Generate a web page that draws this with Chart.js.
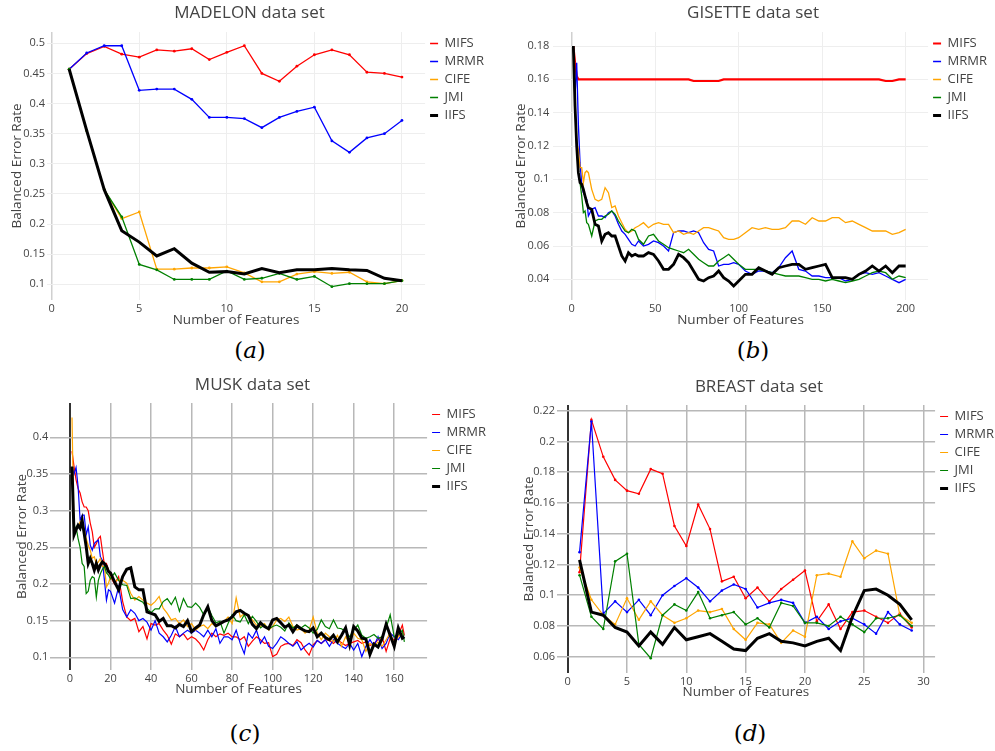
<!DOCTYPE html>
<html><head><meta charset="utf-8">
<script src="https://cdn.jsdelivr.net/npm/chart.js@4/dist/chart.umd.min.js"></script>
<style>
html,body{margin:0;padding:0;background:#fff;width:995px;height:751px;overflow:hidden;position:relative}
canvas.pc{position:absolute}
.cap{position:absolute;font-family:'DejaVu Serif',serif;font-size:23px;color:#000;transform:translate(-50%,-50%);white-space:nowrap}
</style></head><body>
<canvas id="cA" class="pc"></canvas>
<canvas id="cB" class="pc"></canvas>
<canvas id="cC" class="pc"></canvas>
<canvas id="cD" class="pc"></canvas>
<div class="cap" style="left:250px;top:350px">(<i>a</i>)</div>
<div class="cap" style="left:753px;top:350px">(<i>b</i>)</div>
<div class="cap" style="left:245px;top:733px">(<i>c</i>)</div>
<div class="cap" style="left:750px;top:733px">(<i>d</i>)</div>
<script>
// ---------- series names ----------
const names = ['MIFS','MRMR','CIFE','JMI','IIFS'];

// ---------- MADELON ----------
const madX = [1,2,3,4,5,6,7,8,9,10,11,12,13,14,15,16,17,18,19,20];
const madMIFS = [0.457,0.483,0.495,0.482,0.477,0.489,0.487,0.491,0.473,0.485,0.496,0.450,0.437,0.462,0.481,0.489,0.481,0.452,0.450,0.444];
const madMRMR = [0.457,0.484,0.496,0.496,0.422,0.424,0.424,0.407,0.377,0.377,0.375,0.360,0.377,0.387,0.394,0.338,0.319,0.343,0.350,0.372];
const madCIFE = [0.457,0.355,0.257,0.209,0.220,0.125,0.125,0.127,0.127,0.129,0.119,0.104,0.104,0.117,0.121,0.118,0.120,0.104,0.101,0.106];
const madJMI  = [0.457,0.355,0.257,0.212,0.133,0.124,0.108,0.108,0.108,0.122,0.108,0.110,0.118,0.108,0.113,0.096,0.101,0.101,0.101,0.106];
const madIIFS = [0.457,0.355,0.257,0.189,0.170,0.147,0.159,0.135,0.120,0.121,0.117,0.126,0.119,0.124,0.124,0.126,0.124,0.123,0.110,0.106];
const madXTicks = [0,5,10,15,20];
const madYTicks = [0.1,0.15,0.2,0.25,0.3,0.35,0.4,0.45,0.5];

// ---------- GISETTE ----------
const gisX = [1,2,3,4,5,6,7,8,9,10,12,14,16,18,20,22,24,26,28,30,32,34,36,38,40,43,46,49,52,55,58,61,64,67,70,73,76,79,82,85,88,91,94,97,100,104,108,112,116,120,124,128,132,136,140,144,148,152,156,160,164,168,172,176,180,184,188,192,196,200];
const gisMIFS = [0.180,0.170,0.162,0.160,0.160,0.160,0.160,0.160,0.160,0.160,
 0.160,0.160,0.160,0.160,0.160,0.160,0.160,0.160,0.160,0.160,0.160,0.160,0.160,0.160,0.160,
 0.160,0.160,0.160,0.160,0.160,0.160,0.160,0.160,0.160,0.160,0.159,0.159,0.159,0.159,0.159,0.159,0.160,0.160,0.160,0.160,
 0.160,0.160,0.160,0.160,0.160,0.160,0.160,0.160,0.160,0.160,0.160,0.160,0.160,0.160,0.160,0.160,0.160,0.160,0.160,0.160,0.160,0.159,0.159,0.160,0.160];
const gisMRMR = [0.180,0.150,0.170,0.133,0.110,0.097,0.092,0.090,0.088,0.078,
 0.082,0.083,0.078,0.078,0.077,0.080,0.081,0.078,0.073,0.069,0.067,0.064,0.061,0.060,0.063,
 0.060,0.061,0.063,0.062,0.060,0.057,0.068,0.069,0.069,0.068,0.069,0.068,0.062,0.058,0.057,0.048,0.049,0.049,0.050,0.049,
 0.045,0.043,0.045,0.045,0.044,0.047,0.053,0.057,0.046,0.045,0.042,0.042,0.041,0.041,0.041,0.039,0.040,0.043,0.044,0.043,0.044,0.042,0.040,0.038,0.040];
const gisCIFE = [0.180,0.144,0.122,0.118,0.107,0.107,0.098,0.104,0.105,0.104,
 0.094,0.088,0.087,0.088,0.095,0.092,0.083,0.084,0.078,0.074,0.070,0.068,0.069,0.071,0.072,
 0.074,0.071,0.073,0.074,0.073,0.073,0.068,0.069,0.067,0.068,0.067,0.069,0.071,0.071,0.070,0.069,0.065,0.064,0.064,0.065,
 0.068,0.071,0.070,0.071,0.070,0.070,0.071,0.075,0.075,0.073,0.077,0.075,0.075,0.077,0.077,0.074,0.075,0.073,0.071,0.069,0.069,0.069,0.067,0.068,0.070];
const gisJMI = [0.180,0.144,0.120,0.104,0.098,0.090,0.080,0.081,0.074,0.073,
 0.066,0.075,0.076,0.076,0.078,0.079,0.081,0.079,0.075,0.072,0.069,0.068,0.070,0.069,0.064,
 0.061,0.066,0.067,0.063,0.061,0.059,0.058,0.057,0.056,0.058,0.055,0.052,0.050,0.048,0.048,0.051,0.053,0.055,0.052,0.049,
 0.046,0.046,0.046,0.045,0.044,0.043,0.042,0.042,0.042,0.041,0.040,0.040,0.039,0.040,0.039,0.038,0.039,0.040,0.042,0.044,0.045,0.044,0.040,0.042,0.041];
const gisIIFS = [0.180,0.144,0.120,0.104,0.098,0.097,0.094,0.090,0.086,0.083,
 0.082,0.073,0.072,0.063,0.067,0.068,0.066,0.066,0.060,0.054,0.051,0.056,0.054,0.055,0.054,
 0.054,0.056,0.055,0.051,0.046,0.046,0.049,0.055,0.053,0.050,0.045,0.040,0.039,0.041,0.042,0.045,0.041,0.039,0.036,0.039,
 0.043,0.043,0.047,0.045,0.043,0.047,0.048,0.049,0.049,0.046,0.047,0.048,0.049,0.041,0.041,0.041,0.040,0.043,0.045,0.048,0.045,0.048,0.044,0.048,0.048];
const gisXTicks = [0,50,100,150,200];
const gisYTicks = [0.04,0.06,0.08,0.1,0.12,0.14,0.16,0.18];

// ---------- MUSK ----------
const muskX = [1,2,3,4,5,6,7,8,9,10,11,12,13,14,15,16,17,18,19,20,
 22,24,26,28,30,32,34,36,38,40,42,44,46,48,50,52,54,56,58,60,62,64,66,68,70,72,74,76,78,80,82,84,86,88,90,92,94,96,98,100,
 102,104,106,108,110,112,114,116,118,120,122,124,126,128,130,132,134,136,138,140,142,144,146,148,150,152,154,156,158,160,162,164,165];
const muskMIFS = [0.381,0.360,0.342,0.330,0.324,0.312,0.305,0.305,0.300,0.283,0.271,0.250,0.255,0.262,0.265,0.245,0.226,0.228,0.219,0.210,
 0.200,0.210,0.176,0.155,0.150,0.153,0.135,0.142,0.125,0.146,0.144,0.146,0.137,0.130,0.118,0.132,0.128,0.132,0.124,0.128,0.125,0.119,0.110,0.124,0.133,0.128,0.132,0.130,0.133,0.128,0.128,0.124,0.128,0.115,0.122,0.128,0.124,0.119,0.120,0.101,
 0.104,0.115,0.118,0.119,0.116,0.124,0.120,0.110,0.103,0.117,0.123,0.119,0.124,0.123,0.119,0.124,0.120,0.116,0.119,0.121,0.123,0.119,0.121,0.116,0.119,0.124,0.128,0.108,0.126,0.124,0.130,0.144,0.130];
const muskMRMR = [0.360,0.350,0.359,0.333,0.287,0.294,0.294,0.267,0.278,0.253,0.246,0.255,0.258,0.260,0.237,0.232,0.205,0.178,0.192,0.190,
 0.174,0.196,0.165,0.155,0.165,0.160,0.150,0.153,0.148,0.137,0.150,0.133,0.128,0.121,0.130,0.142,0.128,0.133,0.137,0.133,0.137,0.133,0.128,0.137,0.128,0.139,0.119,0.128,0.128,0.124,0.137,0.119,0.105,0.133,0.126,0.137,0.119,0.128,0.115,0.112,
 0.119,0.128,0.124,0.119,0.115,0.121,0.110,0.115,0.119,0.114,0.123,0.119,0.124,0.115,0.124,0.119,0.115,0.112,0.119,0.110,0.119,0.101,0.115,0.124,0.115,0.128,0.112,0.119,0.133,0.128,0.124,0.133,0.130];
const muskCIFE = [0.427,0.267,0.275,0.278,0.285,0.276,0.276,0.262,0.253,0.246,0.235,0.237,0.228,0.230,0.235,0.224,0.224,0.196,0.201,0.210,
 0.203,0.206,0.205,0.201,0.187,0.178,0.183,0.178,0.174,0.171,0.176,0.183,0.167,0.160,0.151,0.153,0.146,0.151,0.142,0.146,0.137,0.142,0.144,0.139,0.146,0.142,0.146,0.149,0.155,0.146,0.181,0.155,0.160,0.158,0.151,0.144,0.142,0.146,0.137,0.142,
 0.151,0.153,0.149,0.155,0.142,0.137,0.139,0.133,0.137,0.155,0.133,0.124,0.133,0.128,0.121,0.130,0.115,0.128,0.119,0.133,0.126,0.124,0.108,0.119,0.115,0.121,0.115,0.124,0.133,0.119,0.128,0.133,0.130];
const muskJMI = [0.360,0.270,0.278,0.262,0.250,0.228,0.224,0.187,0.190,0.205,0.210,0.208,0.182,0.205,0.214,0.220,0.224,0.215,0.212,0.207,
 0.215,0.205,0.199,0.198,0.180,0.181,0.178,0.175,0.167,0.161,0.166,0.166,0.176,0.180,0.172,0.182,0.163,0.180,0.169,0.168,0.174,0.168,0.158,0.169,0.157,0.147,0.149,0.133,0.146,0.158,0.150,0.148,0.158,0.146,0.156,0.149,0.140,0.144,0.139,0.142,
 0.144,0.141,0.136,0.147,0.140,0.144,0.140,0.144,0.140,0.133,0.138,0.151,0.142,0.139,0.151,0.140,0.139,0.135,0.128,0.137,0.144,0.130,0.126,0.128,0.131,0.126,0.128,0.140,0.158,0.128,0.131,0.137,0.121];
const muskIIFS = [0.360,0.267,0.274,0.280,0.276,0.287,0.269,0.251,0.228,0.235,0.228,0.219,0.228,0.219,0.226,0.230,0.228,0.224,0.217,0.215,
 0.203,0.192,0.210,0.220,0.222,0.196,0.192,0.192,0.162,0.160,0.158,0.149,0.153,0.143,0.143,0.140,0.145,0.142,0.150,0.135,0.140,0.144,0.158,0.169,0.150,0.143,0.146,0.149,0.151,0.155,0.162,0.164,0.160,0.157,0.145,0.139,0.147,0.142,0.139,0.151,
 0.153,0.147,0.141,0.144,0.135,0.143,0.139,0.136,0.135,0.140,0.128,0.133,0.127,0.124,0.130,0.121,0.130,0.140,0.117,0.142,0.136,0.126,0.125,0.104,0.118,0.114,0.125,0.145,0.130,0.115,0.140,0.126,0.128];
const muskXTicks = [0,20,40,60,80,100,120,140,160];
const muskYTicks = [0.1,0.15,0.2,0.25,0.3,0.35,0.4];

// ---------- BREAST ----------
const brX = [1,2,3,4,5,6,7,8,9,10,11,12,13,14,15,16,17,18,19,20,21,22,23,24,25,26,27,28,29];
const brMIFS = [0.115,0.214,0.190,0.175,0.168,0.166,0.182,0.179,0.145,0.132,0.159,0.143,0.109,0.112,0.098,0.105,0.096,0.104,0.110,0.116,0.083,0.094,0.078,0.089,0.090,0.086,0.082,0.088,0.079];
const brMRMR = [0.128,0.213,0.088,0.096,0.089,0.097,0.087,0.100,0.106,0.111,0.105,0.096,0.103,0.107,0.104,0.092,0.095,0.097,0.095,0.082,0.086,0.078,0.083,0.085,0.081,0.075,0.089,0.081,0.077];
const brCIFE = [0.118,0.097,0.087,0.081,0.098,0.084,0.096,0.087,0.082,0.085,0.090,0.089,0.091,0.078,0.071,0.082,0.081,0.069,0.077,0.073,0.113,0.114,0.112,0.135,0.124,0.129,0.127,0.087,0.082];
const brJMI  = [0.113,0.086,0.078,0.122,0.127,0.068,0.059,0.087,0.094,0.090,0.102,0.085,0.087,0.089,0.081,0.085,0.079,0.095,0.093,0.082,0.082,0.080,0.086,0.081,0.076,0.085,0.085,0.087,0.080];
const brIIFS = [0.123,0.089,0.087,0.079,0.076,0.067,0.076,0.068,0.079,0.071,0.073,0.075,0.070,0.065,0.064,0.072,0.075,0.070,0.069,0.067,0.070,0.072,0.064,0.086,0.103,0.104,0.100,0.094,0.084];
const brXTicks = [0,5,10,15,20,25,30];
const brYTicks = [0.06,0.08,0.1,0.12,0.14,0.16,0.18,0.2,0.22];

// ---------- styling / layout ----------
const colors = ['#ff0000','#0000ff','#ffa500','#008000','#000000'];
const FAM = "'Open Sans', sans-serif";
Chart.defaults.font.family = FAM;
Chart.defaults.color = '#444';
const LEG_BOX = 8, LEG_PAD = 5, LEG_FONT = 13;

function makePanel(id, p) {
  const cv = document.getElementById(id);
  const m = document.createElement('canvas').getContext('2d');
  m.font = LEG_FONT + 'px ' + FAM;
  const tw = Math.max(...names.map(n => m.measureText(n).width));
  const legendW = LEG_PAD + LEG_BOX + LEG_FONT / 2 + tw + 10;
  const L = Math.round(2 * p.titleCX - p.right - legendW);
  const W = Math.round(p.right - L + legendW);
  const H = p.bottom + 30 - p.top0;
  cv.width = W; cv.height = H;
  cv.style.left = L + 'px'; cv.style.top = p.top0 + 'px';
  cv.style.width = W + 'px'; cv.style.height = H + 'px';
  const pt = p.titleCY - p.top0 - 10.2;
  const pb = (p.top - p.top0) - pt - 20.4;
  const gridOpt = {
    drawTicks: false,
    color: c => (c.tick && c.tick.value === 0) ? p.zeroColor : p.gridColor,
    lineWidth: c => (c.tick && c.tick.value === 0) ? p.zeroW : p.gridW
  };
  const datasets = p.series.map((ys, i) => ({
    label: names[i],
    data: p.x.map((x, j) => ({x: x, y: ys[j]})),
    borderColor: colors[i], backgroundColor: colors[i],
    borderWidth: i === 4 ? p.boldW : (i === 0 && p.redW ? p.redW : p.thinW),
    pointRadius: i === 4 ? 0 : p.pointR, pointHoverRadius: 0, pointBorderWidth: 0,
    pointBackgroundColor: colors[i],
    tension: 0, fill: false, order: 5 - i
  }));
  new Chart(cv, {
    type: 'line',
    data: {datasets},
    options: {
      responsive: false, animation: false, devicePixelRatio: 1, events: [],
      layout: {padding: 0},
      plugins: {
        tooltip: {enabled: false},
        title: {display: true, text: p.title, color: '#444', font: {size: 17, weight: 'normal'}, padding: {top: pt, bottom: pb}},
        legend: {position: 'right', align: 'start', fullSize: false,
          labels: {boxWidth: LEG_BOX, boxHeight: 0, padding: LEG_PAD, color: '#444', font: {size: LEG_FONT},
            sort: (a, b) => a.datasetIndex - b.datasetIndex}}
      },
      scales: {
        x: {
          type: 'linear', min: p.xMin, max: p.xMax,
          afterBuildTicks: ax => { ax.ticks = p.xTicks.map(v => ({value: v})); },
          afterFit: s => { s.height = 30; },
          grid: gridOpt, border: {display: false},
          ticks: {autoSkip: false, maxRotation: 0, padding: p.xTickY - p.bottom - 6.6, color: '#444', font: {size: 11}, callback: v => String(v)},
          title: {display: true, text: 'Number of Features', color: '#444', font: {size: 13.5},
            padding: {top: 0, bottom: H - 8.1 - (p.xTitleY - p.top0)}}
        },
        y: {
          type: 'linear', min: p.yMin, max: p.yMax,
          afterBuildTicks: ax => { ax.ticks = p.yTicks.map(v => ({value: v})); },
          afterFit: s => { s.width = p.left - L; },
          grid: gridOpt, border: {display: false},
          ticks: {autoSkip: false, padding: p.left - p.yTickRight, color: '#444', font: {size: 11}, callback: v => String(+v.toFixed(3))},
          title: {display: true, text: 'Balanced Error Rate', color: '#444', font: {size: 13.5},
            padding: {top: p.yTitleX - L - 8.1, bottom: 0}}
        }
      }
    }
  });
}

makePanel('cA', {
  title: 'MADELON data set', x: madX, series: [madMIFS, madMRMR, madCIFE, madJMI, madIIFS],
  xTicks: madXTicks, yTicks: madYTicks,
  top0: 0, left: 47, right: 425.5, top: 32, bottom: 300,
  titleCX: 249.5, titleCY: 13.3, yTitleX: 17.3, xTitleY: 320, xTickY: 309, yTickRight: 45,
  xMin: -0.268, xMax: 21.32, yMin: 0.0739, yMax: 0.5188,
  gridColor: '#eeeeee', gridW: 1, zeroColor: '#d0d0d0', zeroW: 1.5,
  thinW: 1.3, boldW: 3, pointR: 1.4
});
makePanel('cB', {
  title: 'GISETTE data set', x: gisX, series: [gisMIFS, gisMRMR, gisCIFE, gisJMI, gisIIFS],
  xTicks: gisXTicks, yTicks: gisYTicks,
  top0: 0, left: 553, right: 928.5, top: 32, bottom: 300,
  titleCX: 753, titleCY: 13.5, yTitleX: 521, xTitleY: 320, xTickY: 309, yTickRight: 549.3,
  xMin: -11.19, xMax: 213.4, yMin: 0.0276, yMax: 0.1884,
  gridColor: '#eeeeee', gridW: 1, zeroColor: '#d0d0d0', zeroW: 1.5,
  thinW: 1.3, boldW: 2.8, redW: 2.2, pointR: 0
});
makePanel('cC', {
  title: 'MUSK data set', x: muskX, series: [muskMIFS, muskMRMR, muskCIFE, muskJMI, muskIIFS],
  xTicks: muskXTicks, yTicks: muskYTicks,
  top0: 370, left: 50, right: 427.5, top: 403, bottom: 670,
  titleCX: 252.7, titleCY: 385, yTitleX: 21.7, xTitleY: 689, xTickY: 679, yTickRight: 48.3,
  xMin: -9.86, xMax: 176.2, yMin: 0.0827, yMax: 0.4468,
  gridColor: '#b8b8b8', gridW: 1.5, zeroColor: '#333333', zeroW: 2,
  thinW: 1.2, boldW: 3, pointR: 0
});
makePanel('cD', {
  title: 'BREAST data set', x: brX, series: [brMIFS, brMRMR, brCIFE, brJMI, brIIFS],
  xTicks: brXTicks, yTicks: brYTicks,
  top0: 370, left: 556.7, right: 935.5, top: 405, bottom: 673,
  titleCX: 759.3, titleCY: 386.7, yTitleX: 529.3, xTitleY: 691.7, xTickY: 681.7, yTickRight: 555,
  xMin: -0.926, xMax: 30.97, yMin: 0.0494, yMax: 0.2237,
  gridColor: '#b8b8b8', gridW: 1.5, zeroColor: '#333333', zeroW: 2,
  thinW: 1.2, boldW: 3, pointR: 1.3
});
</script>
</body></html>
